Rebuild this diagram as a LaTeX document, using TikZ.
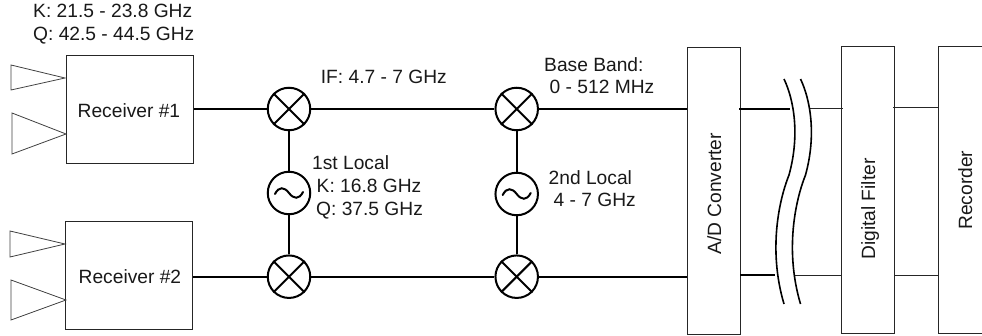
\documentclass[tikz,border=0pt]{standalone}
\usepackage{fontspec}
\setmainfont{Liberation Sans}
\begin{document}
\begin{tikzpicture}[x=1pt,y=-1pt,
  box/.style={draw=black!85,line width=1pt,inner sep=0pt},
  thick line/.style={draw=black,line width=2pt},
  thin line/.style={draw=black!85,line width=1pt},
  ant/.style={draw=black!75,line width=0.8pt,line join=miter},
  circ/.style={circle,draw=black,line width=2pt,minimum size=42.5pt,inner sep=0pt,fill=white},
  lab/.style={inner sep=0pt,anchor=base west,font=\fontsize{19.2pt}{24pt}\selectfont,text=black!90},
  rot/.style={lab,rotate=90}]
\useasboundingbox (0,0) rectangle (982,336);
\node[box,minimum width=127.5pt,minimum height=108pt] (r1) at (129.8,109.3) {};
\node[box,minimum width=127.5pt,minimum height=108.5pt] (r2) at (128.8,275.7) {};
\node[lab] (r1t) at (77.5,117.2) {Receiver \#1};
\node[lab] (r2t) at (78.5,283.2) {Receiver \#2};
\node[box,minimum width=53pt,minimum height=287pt] (ad) at (713.5,191.5) {};
\node[box,minimum width=53pt,minimum height=287pt] (df) at (867.5,190.5) {};
\node[rot] (adt) at (721,255) {A/D Converter};
\node[rot] (dft) at (875,260) {Digital Filter};
\node[rot] (rct) at (972,230) {Recorder};
\coordinate (rtl) at (982,47);
\coordinate (rbl) at (982,334);
\draw[thin line] (rtl) -- (938,47) -- (938,334) -- (rbl);
\coordinate (recA) at (938,107.7);
\coordinate (recB) at (938,275.3);
\node[circ] (m1) at (289,109) {};
\node[circ] (m2) at (289,276.7) {};
\node[circ] (o1) at (289,193) {};
\node[circ] (m3) at (516.7,109) {};
\node[circ] (m4) at (516.7,276.7) {};
\node[circ] (o2) at (516.7,194) {};
\foreach \m in {m1,m2,m3,m4}{
  \draw[thick line] (\m.north west) -- (\m.south east);
  \draw[thick line] (\m.north east) -- (\m.south west);
}
\foreach \m in {o1,o2}{
  \draw[thick line,line cap=round] ([xshift=-14pt,yshift=-1pt]\m.center) .. controls ([xshift=-10pt,yshift=7pt]\m.center) and ([xshift=-4.5pt,yshift=6pt]\m.center) .. (\m.center) .. controls ([xshift=4.5pt,yshift=-6pt]\m.center) and ([xshift=10pt,yshift=-7pt]\m.center) .. ([xshift=14pt,yshift=1pt]\m.center);
}
\draw[thick line] (m1.west -| r1.east) -- (m1.west);
\draw[thick line] (m2.west -| r2.east) -- (m2.west);
\draw[thick line] (m1.east) -- (m3.west);
\draw[thick line] (m2.east) -- (m4.west);
\draw[thick line] (m1.south) -- (o1.north);
\draw[thick line] (o1.south) -- (m2.north);
\draw[thick line] (m3.south) -- (o2.north);
\draw[thick line] (o2.south) -- (m4.north);
\draw[thick line] (m3.east) -- (m3.east -| ad.west);
\draw[thick line] (m4.east) -- (m4.east -| ad.west);
% break
\coordinate (adOutA) at (739,109);
\coordinate (adOutB) at (740,275.3);
\coordinate (brA) at (790,109);
\coordinate (brB) at (775,275.3);
\coordinate (brC) at (810,109);
\coordinate (brD) at (795,275.3);
\coordinate (dfA) at (842.5,109);
\coordinate (dfB) at (841,275.3);
\coordinate (dfC) at (893,107.7);
\coordinate (dfD) at (894,275.3);
\draw[thick line] (adOutA) -- (brA);
\draw[thick line] (adOutB) -- (brB);
\draw[thin line] (brC) -- (dfA);
\draw[thin line] (brD) -- (dfB);
\draw[thin line] (dfC) -- (recA);
\draw[thin line] (dfD) -- (recB);
\foreach \d in {0,16.5}{
  \begin{scope}[xshift=\d pt]
  \coordinate (b0) at (784,79);
  \coordinate (b1) at (789,175);
  \coordinate (b2) at (784,304);
  \draw[draw=black,line width=1.6pt] (b0) .. controls (794,100) and (800,135) .. (b1) .. controls (779,200) and (768,250) .. (b2);
  \end{scope}
}
% antennas
\draw[ant] (11,65) -- (11,90) -- (65,78) -- cycle;
\draw[ant] (12,113) -- (12,154) -- (66,134) -- cycle;
\draw[ant] (10,231) -- (10,257) -- (65,244) -- cycle;
\draw[ant] (11,280) -- (11,320) -- (66,300) -- cycle;
% labels
\node[lab] (l1) at (33,17.5) {K: 21.5 - 23.8 GHz};
\node[lab] (l2) at (33,40.7) {Q: 42.5 - 44.5 GHz};
\node[lab] (l3) at (320.7,84) {IF: 4.7 - 7 GHz};
\node[lab] (l4) at (544,71.7) {Base Band:};
\node[lab] (l5) at (549.5,94) {0 - 512 MHz};
\node[lab] (l6) at (312,170) {1st Local};
\node[lab] (l7) at (316.5,193) {K: 16.8 GHz};
\node[lab] (l8) at (316,215.7) {Q: 37.5 GHz};
\node[lab] (l9) at (548.5,184.3) {2nd Local};
\node[lab] (l10) at (553.5,207) {4 - 7 GHz};
\end{tikzpicture}
\end{document}
